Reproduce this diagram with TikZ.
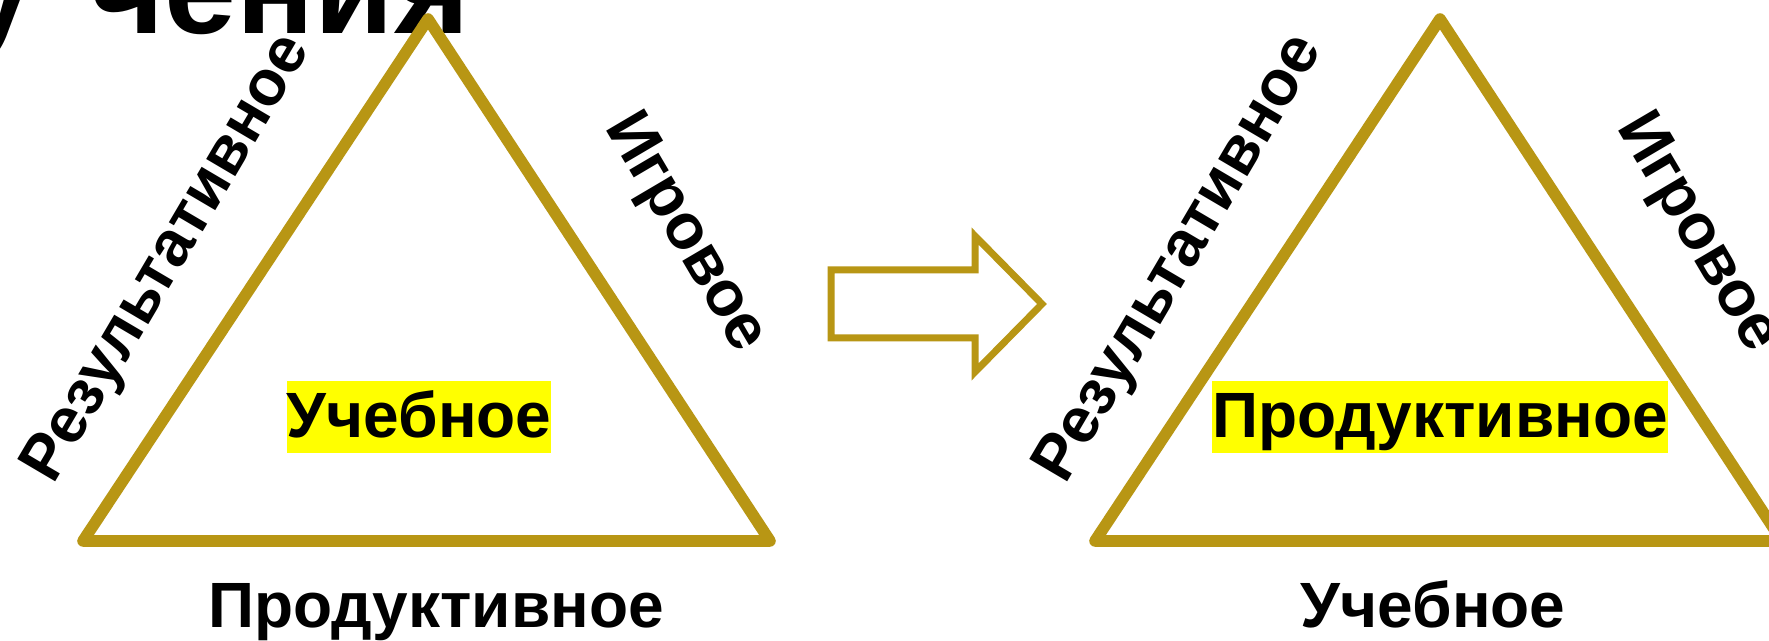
\documentclass[tikz,border=0pt]{standalone}
\usepackage{fontspec}
\setmainfont{Liberation Sans}
\definecolor{gold}{RGB}{184,150,20}
\definecolor{hlyellow}{RGB}{255,255,0}
\begin{document}
\begin{tikzpicture}[x=0.5pt,y=-0.5pt,
  tri/.style={draw=gold, line width=5.8pt, line join=round},
  arr/.style={draw=gold, line width=3.5pt, line join=miter},
  lbl/.style={font=\fontsize{32}{38}\selectfont\bfseries, inner sep=0pt},
  hl/.style={lbl, fill=hlyellow, text height=28.5pt, text depth=7.5pt},
  ttl/.style={font=\fontsize{64.6}{76}\selectfont\bfseries, inner sep=0pt}]
\useasboundingbox (0,0) rectangle (1769,641);
\fill[white] (0,0) rectangle (1769,641);
\clip (0,0) rectangle (1769,641);
% title fragment
\node[ttl, anchor=base east] (title) at (470,34) {у\kern0.43em чения};
% triangles
\coordinate (A1) at (428,19);
\coordinate (B1) at (83,541);
\coordinate (C1) at (770,541);
\coordinate (A2) at (1440,19);
\coordinate (B2) at (1095,541);
\coordinate (C2) at (1782,541);
\draw[tri] (A1) -- (B1) -- (C1) -- cycle;
\draw[tri] (A2) -- (B2) -- (C2) -- cycle;
% block arrow
\draw[arr] (831,270) -- (975,270) -- (975,236) -- (1042,304) -- (975,372) -- (975,338) -- (831,338) -- cycle;
% labels
\node[hl, anchor=base] (ucheb1) at (419,438) {Учебное};
\node[hl, anchor=base] (prod2) at (1440,438) {Продуктивное};
\node[lbl, anchor=base] (prod1) at (436,628) {Продуктивное};
\node[lbl, anchor=base] (ucheb2) at (1433,628) {Учебное};
\node[lbl, anchor=base, rotate=59.5] (res1) at (182,267) {Результативное};
\node[lbl, anchor=base, rotate=59.5] (res2) at (1194,267) {Результативное};
\node[lbl, anchor=base, rotate=-59.5] (igr1) at (671,241) {Игровое};
\node[lbl, anchor=base, rotate=-59.5] (igr2) at (1683,241) {Игровое};
\end{tikzpicture}
\end{document}
